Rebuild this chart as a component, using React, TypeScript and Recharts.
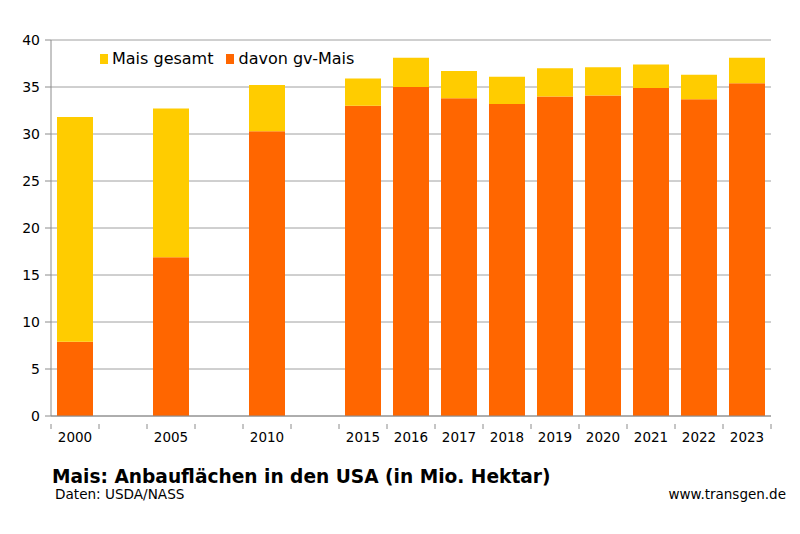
import React from 'react';
import { BarChart, Bar, XAxis, YAxis, CartesianGrid } from 'recharts';

const categories = ['2000', 'g1', '2005', 'g2', '2010', 'g3', '2015', '2016', '2017', '2018', '2019', '2020', '2021', '2022', '2023'];
const totalMais = [31.8, null, 32.7, null, 35.2, null, 35.9, 38.1, 36.7, 36.1, 37.0, 37.1, 37.4, 36.3, 38.1];
const gvMais = [7.9, null, 16.9, null, 30.3, null, 33.0, 35.0, 33.8, 33.2, 34.0, 34.1, 34.9, 33.7, 35.4];
const yTicks = [0, 5, 10, 15, 20, 25, 30, 35, 40];

const data = categories.map((c, i) => ({
  cat: c,
  gv: gvMais[i],
  rest: totalMais[i] != null && gvMais[i] != null ? (totalMais[i] as number) - (gvMais[i] as number) : null,
}));

const W = 800, H = 534;
const M = { top: 40, right: 29, left: 0, bottom: 88 };
const YW = 51;
const band = (W - M.left - M.right - YW) / categories.length;
const FONT = '"DejaVu Sans", Verdana, sans-serif';
const AXIS = '#8c8c8c';

const XTick = (props: any) => {
  const { x, y, payload, index } = props;
  const label = String(payload.value).startsWith('g') ? '' : payload.value;
  const isLast = index === categories.length - 1;
  return (
    <g>
      <line x1={x - band / 2} x2={x - band / 2} y1={y} y2={y + 5} stroke={AXIS} />
      {isLast && <line x1={x + band / 2} x2={x + band / 2} y1={y} y2={y + 5} stroke={AXIS} />}
      <text x={x} y={y + 18} textAnchor="middle" fontSize={13.5} fill="#000" fontFamily={FONT}>{label}</text>
    </g>
  );
};

export default function App() {
  return (
    <div style={{ position: 'absolute', left: 0, top: 0, width: W, height: H, background: '#fff' }}>
      <BarChart width={W} height={H} data={data} margin={M} barCategoryGap={12}>
        <CartesianGrid vertical={false} stroke="#a0a0a0" />
        <XAxis dataKey="cat" tick={<XTick />} tickLine={false} interval={0} stroke={AXIS} height={30} />
        <YAxis domain={[0, 40]} ticks={yTicks} width={YW} stroke={AXIS} tickSize={6} tickMargin={5}
          tick={{ fontSize: 14, fill: '#000', fontFamily: FONT }} interval={0} />
        <Bar dataKey="gv" stackId="a" fill="#FF6600" barSize={36} isAnimationActive={false} />
        <Bar dataKey="rest" stackId="a" fill="#FFCC00" barSize={36} isAnimationActive={false} />
      </BarChart>
      <div style={{ position: 'absolute', left: 100, top: 49, display: 'flex', alignItems: 'center', fontFamily: FONT, fontSize: 16, color: '#000' }}>
        <span style={{ display: 'inline-block', width: 8, height: 10, background: '#FFCC00', marginRight: 4 }} />
        <span style={{ marginRight: 13 }}>Mais gesamt</span>
        <span style={{ display: 'inline-block', width: 8, height: 10, background: '#FF6600', marginRight: 4 }} />
        <span>davon gv-Mais</span>
      </div>
      <div style={{ position: 'absolute', left: 52, top: 466, fontFamily: FONT, fontWeight: 'bold', fontSize: 18.6, color: '#000' }}>
        Mais: Anbauflächen in den USA (in Mio. Hektar)
      </div>
      <div style={{ position: 'absolute', left: 55, top: 486, fontFamily: FONT, fontSize: 13.6, color: '#000' }}>
        Daten: USDA/NASS
      </div>
      <div style={{ position: 'absolute', right: 14, top: 486, fontFamily: FONT, fontSize: 13.5, color: '#000' }}>
        www.transgen.de
      </div>
    </div>
  );
}
